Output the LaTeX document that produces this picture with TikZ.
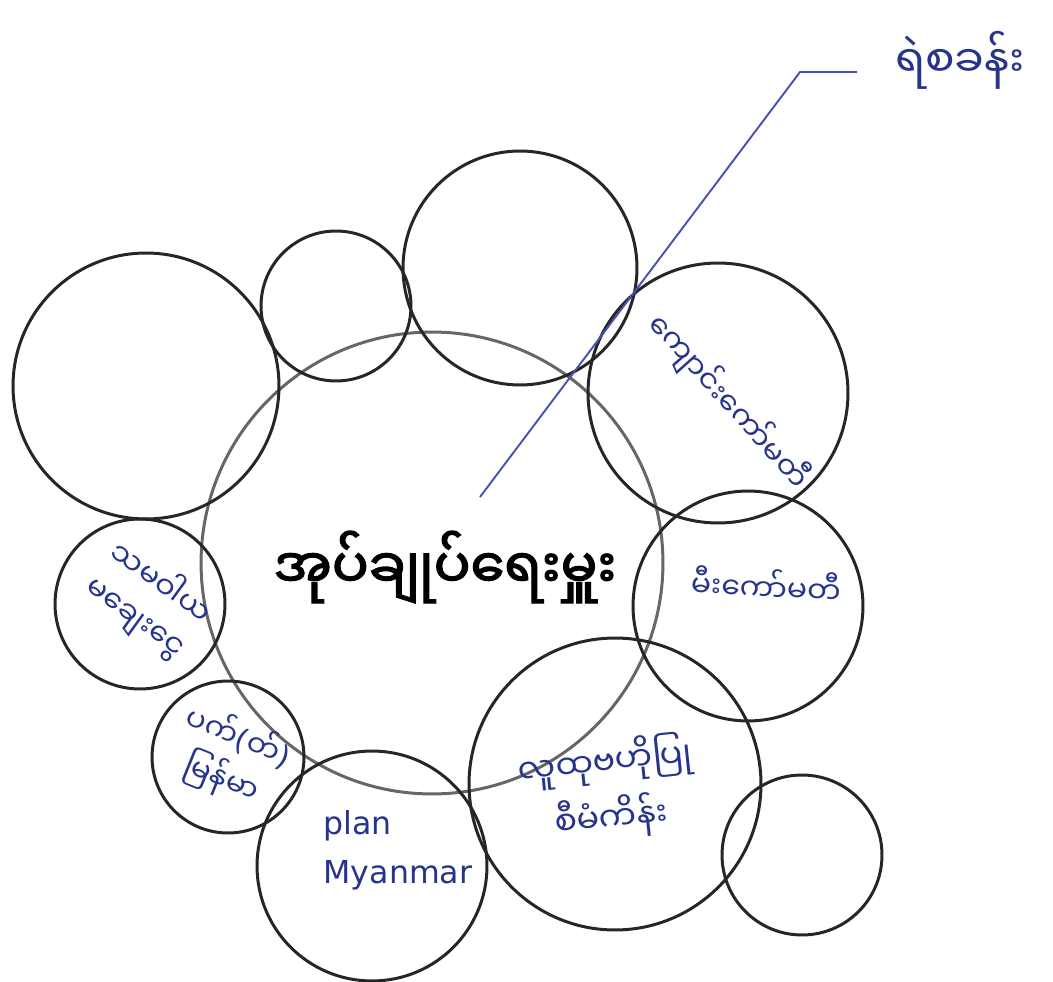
\documentclass[tikz,border=0pt]{standalone}
\usepackage{fontspec}
\setmainfont{DejaVu Sans}
\newfontfamily\mmfont[Script=Myanmar]{Noto Sans Myanmar UI}
\newfontfamily\mmboldfont[Script=Myanmar,FakeBold=2.5]{Noto Sans Myanmar UI}
\newcommand\lparen{{\rmfamily(}}
\newcommand\rparen{{\rmfamily)}}
\definecolor{ink}{RGB}{38,52,140}
\definecolor{pen}{RGB}{72,82,178}
\tikzset{
  bubble/.style={circle, draw=black!85, line width=1.7pt, inner sep=0pt},
  hand/.style={text=ink, align=center, inner sep=0pt,
               font=\mmfont\fontsize{17}{20}\selectfont},
}

\begin{document}
\begin{tikzpicture}[x=0.02cm, y=-0.02cm]
\useasboundingbox (0,0) rectangle (1053,982);

% bubbles
\node[bubble, draw=black!60, minimum size=9.24cm] (admin) at (432,563) {};
\node[bubble, minimum size=4.68cm] (topmid)   at (520,268) {};
\node[bubble, minimum size=3.0cm]  (topsmall) at (336,306) {};
\node[bubble, minimum size=5.32cm] (bigleft)  at (146,386) {};
\node[bubble, minimum size=3.4cm]  (coop)     at (140,604) {};
\node[bubble, minimum size=3.04cm] (pact)     at (228,757) {};
\node[bubble, minimum size=4.6cm]  (plan)     at (372,866) {};
\node[bubble, minimum size=5.84cm] (project)  at (615,784) {};
\node[bubble, minimum size=3.2cm]  (farright) at (802,855) {};
\node[bubble, minimum size=4.6cm]  (fire)     at (748,606) {};
\node[bubble, minimum size=5.2cm]  (school)   at (718,393) {};

% labels
\node[font=\mmboldfont\fontsize{31}{36}\selectfont] (head) at (445,567) {အုပ်ချုပ်ရေးမှူး};
\node[hand, rotate=-48] (schooltxt) at (728,402) {ကျောင်းကော်မတီ};
\node[hand, rotate=-3] (firetxt) at (766,585) {မီးကော်မတီ};
\node[hand, rotate=6, font=\mmfont\fontsize{19}{24}\selectfont] (projecttxt) at (608,790) {လူထုဗဟိုပြု\\[6pt]စီမံကိန်း};
\node[hand, font=\fontsize{18}{28}\selectfont, align=left] (plantxt) at (398,850) {plan\\Myanmar};
\node[hand, rotate=-36] (cooptxt) at (148,600) {သမဝါယ\\[4pt]မချေးငွေ};
\node[hand, rotate=-22] (pacttxt) at (230,758) {ပက်\lparen တ်\rparen\\[4pt]မြန်မာ};

% pointer to the police station
\coordinate (tip)  at (480,497);
\coordinate (bend) at (800,72);
\coordinate (tail) at (857,72);
\draw[pen, line width=1.1pt] (tip) -- (bend) -- (tail);
\node[hand, font=\mmfont\fontsize{25}{30}\selectfont] (police) at (960,60) {ရဲစခန်း};
\end{tikzpicture}
\end{document}
